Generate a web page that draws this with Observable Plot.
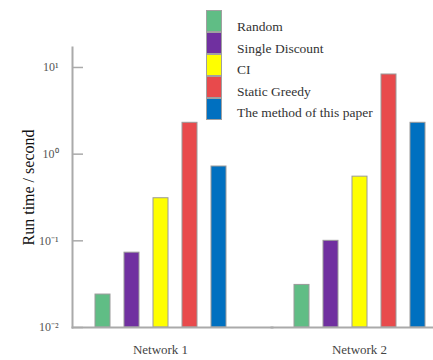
<!DOCTYPE html>
<html><head><meta charset="utf-8">
<script src="https://cdn.jsdelivr.net/npm/d3@7"></script>
<script src="https://cdn.jsdelivr.net/npm/@observablehq/plot@0.6"></script>
<style>
html,body{margin:0;padding:0;background:#fff;overflow:hidden;width:433px;height:360px}
#wrap{position:relative;width:433px;height:360px;overflow:hidden}
#wrap svg{position:absolute;left:0;top:0}
#wrap svg [aria-label="y-axis label"]{font-size:16px;fill:#111}
#legend{position:absolute;left:206px;top:10px;font-family:"Liberation Serif","Times New Roman",serif;font-size:13.5px;color:#333}
#legend .sw{width:16px;height:22px;box-sizing:border-box;border:1px solid #a0a0a0}
#legend .lab{position:absolute;left:31px;top:6px;white-space:nowrap;line-height:21.6px;font-family:"Liberation Serif",serif}
</style>
</head><body><div id="wrap"></div>
<script>
const networks = ["Network 1", "Network 2"];
const methods = ["Random", "Single Discount", "CI", "Static Greedy", "The method of this paper"];
const colors = ["#60bd85", "#7030a0", "#ffff00", "#e84a4c", "#0070c0"];
const network1Times = [0.024, 0.073, 0.31, 2.3, 0.72];
const network2Times = [0.031, 0.1, 0.55, 8.3, 2.3];
const yTicks = [0.01, 0.1, 1, 10];
const yTickLabels = ["10\u207B\u00B2", "10\u207B\u00B9", "10\u2070", "10\u00B9"];

const runTimes = [network1Times, network2Times];
const data = [];
networks.forEach((n, j) => methods.forEach((m, i) => data.push({network: n, method: m, value: runTimes[j][i]})));

const serif = '"Liberation Serif","Times New Roman",serif';
const chart = Plot.plot({
  width: 447, height: 360,
  marginLeft: 72, marginRight: 0, marginTop: 47, marginBottom: 33,
  style: {fontFamily: serif, maxWidth: "none", background: "transparent", overflow: "visible"},
  fx: {domain: networks, paddingInner: 0.1156, paddingOuter: 0, label: null},
  x: {domain: methods, paddingInner: 0.49, paddingOuter: 0.728, axis: null},
  y: {type: "log", domain: [0.01, 17], axis: null},
  color: {domain: methods, range: colors},
  marks: [
    Plot.barY(data, {fx: "network", x: "method", y1: 0.01, y2: "value", fill: "method", stroke: "#9a9a9a", strokeWidth: 1}),
    Plot.frame({anchor: "left", facetAnchor: "left", stroke: "#aaa", strokeWidth: 2}),
    Plot.frame({anchor: "bottom", stroke: "#aaa", strokeWidth: 2, insetRight: -24}),
    Plot.axisY(yTicks, {tickSize: 11, dx: 11, fill: "none", stroke: "#aaa", strokeWidth: 1.5, label: null}),
    Plot.axisY(yTicks, {tickSize: 0, tickPadding: 14, tickFormat: d => yTickLabels[yTicks.indexOf(d)], fontSize: 12, fill: "#555",
      label: "Run time / second", labelAnchor: "center", labelOffset: 50, labelArrow: "none"}),
    Plot.axisFx({anchor: "bottom", tickSize: 0, tickPadding: 17, fontSize: 13, fill: "#444", label: null})
  ]
});
const wrap = document.getElementById("wrap");
wrap.appendChild(chart);

const legend = document.createElement("div");
legend.id = "legend";
const sw = document.createElement("div");
methods.forEach((m, i) => {
  const s = document.createElement("div");
  s.className = "sw";
  s.style.background = colors[i];
  sw.appendChild(s);
});
legend.appendChild(sw);
const labs = document.createElement("div");
labs.className = "lab";
methods.forEach(m => {
  const l = document.createElement("div");
  l.textContent = m;
  labs.appendChild(l);
});
legend.appendChild(labs);
wrap.appendChild(legend);
</script>
</body></html>
